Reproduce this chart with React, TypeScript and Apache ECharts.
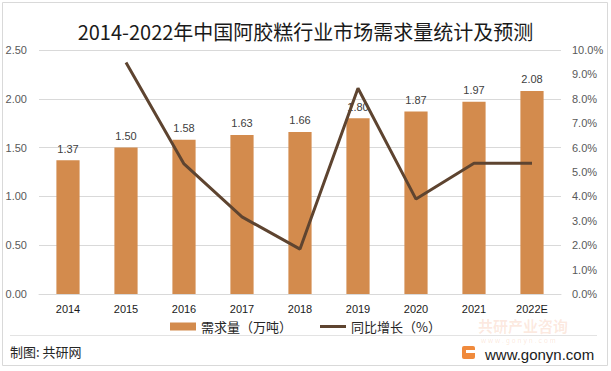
import React, { useEffect, useRef } from "react";
import * as echarts from "echarts";

const categories = ["2014", "2015", "2016", "2017", "2018", "2019", "2020", "2021", "2022E"];
const demand = [1.37, 1.5, 1.58, 1.63, 1.66, 1.8, 1.87, 1.97, 2.08];
const growth = [null, 9.49, 5.33, 3.16, 1.84, 8.43, 3.89, 5.36, 5.36];

const titleText = "2014-2022年中国阿胶糕行业市场需求量统计及预测";
const barName = "需求量（万吨）";
const lineName = "同比增长（%）";
const sourceText = "制图: 共研网";
const siteText = "www.gonyn.com";

export default function App() {
  const ref = useRef<HTMLDivElement>(null);
  useEffect(() => {
    document.body.style.margin = "0";
    const chart = echarts.init(ref.current!, null, { renderer: "svg" });
    const font = "'Noto Sans CJK SC', 'Noto Sans', sans-serif";
    chart.setOption({
      animation: false,
      backgroundColor: "#ffffff",
      textStyle: { fontFamily: font },
      title: {
        text: titleText,
        left: "center",
        top: 16,
        textStyle: { fontSize: 20, fontWeight: "normal", color: "#1a1a1a", fontFamily: font },
      },
      legend: {
        bottom: 36,
        left: "center",
        itemGap: 28,
        itemWidth: 26,
        itemHeight: 8,
        padding: [2, 5, 2, 5],
        textStyle: { fontSize: 13, color: "#262626", fontFamily: font },
        data: [
          { name: barName, icon: "rect" },
          { name: lineName, icon: "path://M0,0 L26,0 L26,3 L0,3 Z" },
        ],
      },
      grid: { left: 39, right: 50, top: 50, bottom: 77 },
      xAxis: {
        type: "category",
        data: categories,
        axisLine: { show: true, lineStyle: { color: "#d9d9d9" } },
        axisTick: { show: false },
        axisLabel: { color: "#1a1a1a", fontSize: 11, margin: 9, fontFamily: "Liberation Sans, Arial, sans-serif" },
      },
      yAxis: [
        {
          type: "value",
          min: 0,
          max: 2.5,
          interval: 0.5,
          axisLine: { show: false },
          axisTick: { show: false },
          splitLine: { lineStyle: { color: "#d9d9d9" } },
          axisLabel: { color: "#595959", fontSize: 11, margin: 12, formatter: (v: number) => v.toFixed(2), fontFamily: "Liberation Sans, Arial, sans-serif" },
        },
        {
          type: "value",
          min: 0,
          max: 10,
          interval: 1,
          axisLine: { show: false },
          axisTick: { show: false },
          splitLine: { show: false },
          axisLabel: { color: "#595959", fontSize: 11, margin: 11, formatter: (v: number) => v.toFixed(1) + "%", fontFamily: "Liberation Sans, Arial, sans-serif" },
        },
      ],
      series: [
        {
          name: barName,
          type: "bar",
          data: demand,
          barWidth: "40%",
          itemStyle: { color: "#D38B4D" },
          label: {
            show: true,
            position: "top",
            distance: 6,
            color: "#404040",
            fontSize: 11,
            fontFamily: "Liberation Sans, Arial, sans-serif",
            formatter: (p: any) => Number(p.value).toFixed(2),
          },
          z: 2,
        },
        {
          name: lineName,
          type: "line",
          yAxisIndex: 1,
          data: growth,
          symbol: "none",
          lineStyle: { color: "#5E4430", width: 3 },
          itemStyle: { color: "#5E4430" },
          z: 3,
        },
      ],
      graphic: [
        {
          type: "rect",
          shape: { x: 2.5, y: 2.5, width: 605, height: 363 },
          style: { fill: "none", stroke: "#d9d9d9", lineWidth: 1 },
          silent: true,
        },
        {
          type: "line",
          shape: { x1: 10, y1: 335.5, x2: 597, y2: 335.5 },
          style: { stroke: "#e3e3e3", lineWidth: 1 },
        },
        {
          type: "text",
          x: 10,
          y: 345,
          style: { text: sourceText, fontSize: 13, fill: "#262626", fontFamily: font },
        },
        {
          type: "text",
          x: 478,
          y: 318,
          style: { text: "共研产业咨询", fontSize: 15, fontWeight: "bold", fill: "rgba(236,120,60,0.16)", fontFamily: font },
        },
        {
          type: "text",
          x: 481,
          y: 337,
          style: { text: "w w w . g o n y n . c o m", fontSize: 7, fill: "rgba(236,120,60,0.18)", fontFamily: "Liberation Sans, sans-serif" },
        },
        {
          type: "rect",
          shape: { x: 462, y: 346, width: 13, height: 13, r: 2 },
          style: { fill: "#F08A3C" },
        },
        {
          type: "rect",
          shape: { x: 466, y: 350, width: 9, height: 3 },
          style: { fill: "#ffffff" },
        },
        {
          type: "text",
          x: 485,
          y: 347,
          style: { text: siteText, fontSize: 15, fill: "#1a1a1a", fontFamily: "Liberation Sans, Arial, sans-serif" },
        },
      ],
    });
    return () => chart.dispose();
  }, []);
  return <div ref={ref} style={{ position: "absolute", left: 0, top: 0, width: 611, height: 371 }} />;
}
